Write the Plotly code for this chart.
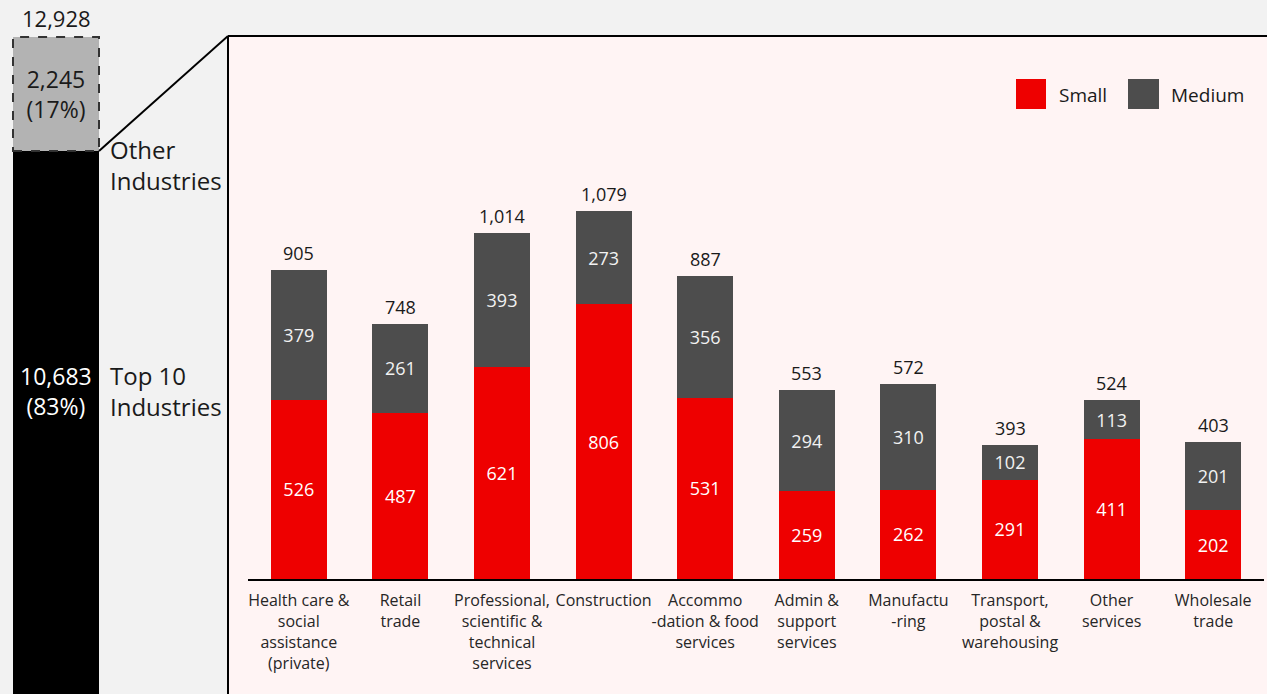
import plotly.graph_objects as go

# --- data -------------------------------------------------------------
industries = [
    "Health care &<br>social<br>assistance<br>(private)",
    "Retail<br>trade",
    "Professional,<br>scientific &<br>technical<br>services",
    "Construction",
    "Accommo<br>-dation & food<br>services",
    "Admin &<br>support<br>services",
    "Manufactu<br>-ring",
    "Transport,<br>postal &<br>warehousing",
    "Other<br>services",
    "Wholesale<br>trade",
]
small = [526, 487, 621, 806, 531, 259, 262, 291, 411, 202]
medium = [379, 261, 393, 273, 356, 294, 310, 102, 113, 201]

top10_total = 10683
other_total = 2245
all_total = 12928
top10_share = "83%"
other_share = "17%"

# --- styling -----------------------------------------------------------
W, H = 1267, 694
FONT = "Open Sans"
RED = "#ee0000"
DARK = "#4d4d4d"
PANEL_BG = "#fff4f4"
PAGE_BG = "#f2f2f2"

totals = [s + m for s, m in zip(small, medium)]

# pixel layout helpers (paper fractions)
panel_left = 228 / W
panel_top = (H - 36) / H
main_x0, main_x1 = 248 / W, 1264 / W
main_y0 = (H - 579) / H
Y1_MAX = 1592
Y2_MAX = 13656

# left summary column: bar centre / width in pixels
LEFT_C, LEFT_W = 56, 86
X2_LO = -LEFT_C / LEFT_W
X2_HI = (228 - LEFT_C) / LEFT_W

fig = go.Figure()

# --- main stacked bars --------------------------------------------------
fig.add_trace(go.Bar(
    x=industries, y=small, name="Small", marker_color=RED,
    text=[f"{v:,}" for v in small], textposition="inside",
    insidetextanchor="middle", textangle=0,
    textfont=dict(color="white", size=18, family=FONT),
    xaxis="x", yaxis="y", showlegend=False,
))
fig.add_trace(go.Bar(
    x=industries, y=medium, name="Medium", marker_color=DARK,
    text=[f"{v:,}" for v in medium], textposition="inside",
    insidetextanchor="middle", textangle=0,
    textfont=dict(color="#f2f2f2", size=18, family=FONT),
    xaxis="x", yaxis="y", showlegend=False,
))

# --- left summary bar ---------------------------------------------------
fig.add_trace(go.Bar(
    x=[0], y=[top10_total], marker_color="#000000", width=1,
    xaxis="x2", yaxis="y2", showlegend=False, hoverinfo="skip",
))
fig.add_trace(go.Bar(
    x=[0], y=[other_total], marker_color="#b3b3b3", width=1,
    text=[f"{other_total:,}<br>({other_share})"], textposition="inside",
    insidetextanchor="middle", textangle=0,
    textfont=dict(color="#1a1a1a", size=23, family=FONT),
    xaxis="x2", yaxis="y2", showlegend=False, hoverinfo="skip",
))

shapes = [
    # zoom panel background and its top/left border
    dict(type="rect", xref="paper", yref="paper", x0=panel_left, x1=1,
         y0=0, y1=panel_top, fillcolor=PANEL_BG, line_width=0, layer="below"),
    dict(type="line", xref="paper", yref="paper", x0=panel_left, x1=1,
         y0=panel_top, y1=panel_top, line=dict(color="black", width=2)),
    dict(type="line", xref="paper", yref="paper", x0=panel_left, x1=panel_left,
         y0=0, y1=panel_top, line=dict(color="black", width=2)),
    # dashed outline around the "other industries" segment
    dict(type="rect", xref="x2", yref="y2", x0=-0.5, x1=0.5,
         y0=top10_total, y1=all_total,
         line=dict(color="#333333", width=2, dash="dash")),
    # connector from the top-10 segment to the zoom panel
    dict(type="line", xref="x2", yref="y2", x0=0.5, x1=X2_HI,
         y0=top10_total, y1=Y2_MAX * panel_top,
         line=dict(color="black", width=2)),
    # legend swatches
    dict(type="rect", xref="paper", yref="paper",
         x0=1016 / W, x1=1046 / W, y0=(H - 109) / H, y1=(H - 79) / H,
         fillcolor=RED, line_width=0),
    dict(type="rect", xref="paper", yref="paper",
         x0=1128 / W, x1=1159 / W, y0=(H - 109) / H, y1=(H - 79) / H,
         fillcolor=DARK, line_width=0),
]

# totals above each stacked bar
annotations = [
    dict(xref="x", yref="y", x=cat, y=tot, text=f"{tot:,}",
         showarrow=False, xanchor="center", yanchor="bottom", yshift=3,
         font=dict(size=18, color="#1a1a1a", family=FONT))
    for cat, tot in zip(industries, totals)
]
annotations += [
    dict(xref="x2", yref="y2", x=0, y=all_total, text=f"{all_total:,}",
         showarrow=False, xanchor="center", yanchor="bottom", yshift=2,
         font=dict(size=22, color="#1a1a1a", family=FONT)),
    dict(xref="paper", yref="paper", x=1057 / W, y=(H - 95) / H,
         text="Small", showarrow=False, xanchor="left", yanchor="middle",
         font=dict(size=19, color="#1a1a1a", family=FONT)),
    dict(xref="paper", yref="paper", x=1169 / W, y=(H - 95) / H,
         text="Medium", showarrow=False, xanchor="left", yanchor="middle",
         font=dict(size=19, color="#1a1a1a", family=FONT)),
    dict(xref="paper", yref="paper", x=108 / W, y=(H - 165) / H,
         text="Other<br>Industries", showarrow=False, xanchor="left",
         yanchor="middle", align="left",
         font=dict(size=24, color="#1a1a1a", family=FONT)),
    dict(xref="paper", yref="paper", x=108 / W, y=(H - 391) / H,
         text="Top 10<br>Industries", showarrow=False, xanchor="left",
         yanchor="middle", align="left",
         font=dict(size=24, color="#1a1a1a", family=FONT)),
    dict(xref="paper", yref="paper", x=LEFT_C / W, y=(H - 391) / H,
         text=f"{top10_total:,}<br>({top10_share})", showarrow=False,
         xanchor="center", yanchor="middle", align="center",
         font=dict(size=23, color="white", family=FONT)),
]

fig.update_layout(
    width=W, height=H,
    margin=dict(l=0, r=0, t=0, b=0, autoexpand=False),
    paper_bgcolor=PAGE_BG, plot_bgcolor="rgba(0,0,0,0)",
    barmode="stack", bargap=0.45,
    font=dict(family=FONT, color="#1a1a1a"),
    xaxis=dict(domain=[main_x0, main_x1], type="category",
               showline=True, linecolor="black", linewidth=2,
               showgrid=False, ticks="", tickangle=0, automargin=False,
               ticklabelstandoff=6,
               tickfont=dict(size=16, color="#262626", family=FONT),
               fixedrange=True),
    yaxis=dict(domain=[main_y0, panel_top], range=[0, Y1_MAX],
               visible=False, fixedrange=True),
    xaxis2=dict(domain=[0, panel_left], range=[X2_LO, X2_HI],
                visible=False, anchor="y2", fixedrange=True),
    yaxis2=dict(domain=[0, 1], range=[0, Y2_MAX], visible=False,
                anchor="x2", fixedrange=True),
    shapes=shapes,
    annotations=annotations,
)
fig.update_traces(selector=dict(type="bar"), constraintext="none",
                  marker_line_width=0)

fig.write_html("out.html")
